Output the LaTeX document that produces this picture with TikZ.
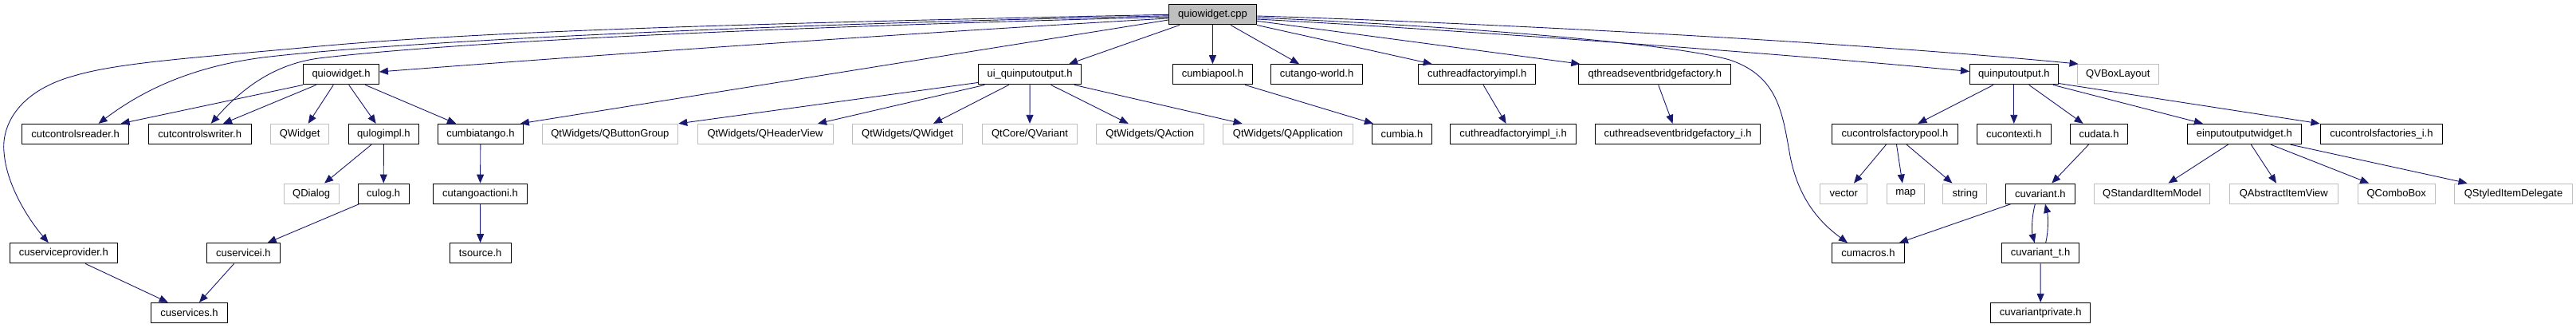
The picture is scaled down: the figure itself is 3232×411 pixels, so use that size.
\documentclass[tikz,border=0pt]{standalone}
\usepackage{fontspec}
\setmainfont{Liberation Sans}
\usetikzlibrary{arrows.meta}
\definecolor{edgeblue}{HTML}{191970}
\definecolor{extgray}{HTML}{BFBFBF}

\begin{document}
\begin{tikzpicture}[x=1pt, y=-1pt,
   every node/.style={font=\fontsize{13}{15}\selectfont, inner sep=0pt, minimum height=25.3pt},
   hdr/.style={draw=black, line width=1pt},
   sysh/.style={draw=extgray, line width=1pt},
   srcf/.style={draw=black, fill=extgray, line width=1pt},
   inc/.style={draw=edgeblue, line width=0.9pt, -{Triangle[length=11pt,width=9pt]}}]
\useasboundingbox (0,0) rectangle (3232,411);

\node[srcf, minimum width=110]   (root)     at (1521.4,18.3) {quiowidget.cpp};

\node[hdr,  minimum width=94.7]  (qw)       at (428,93.3)    {quiowidget.h};
\node[hdr,  minimum width=128.6] (uiq)      at (1292.1,93.3) {ui\_quinputoutput.h};
\node[hdr,  minimum width=99.3]  (cpool)    at (1521.4,93.3) {cumbiapool.h};
\node[hdr,  minimum width=115.3] (ctw)      at (1652,93.3)   {cutango-world.h};
\node[hdr,  minimum width=147.2] (ctfi)     at (1853.2,93.3) {cuthreadfactoryimpl.h};
\node[hdr,  minimum width=191.1] (qteb)     at (2076.3,93.3) {qthreadseventbridgefactory.h};
\node[hdr,  minimum width=110.7] (qio)      at (2526.8,93.3) {quinputoutput.h};
\node[sysh, minimum width=102.5] (qvbox)    at (2657.3,93.3) {QVBoxLayout};

\node[hdr,  minimum width=133.5] (ccr)      at (94.6,168)    {cutcontrolsreader.h};
\node[hdr,  minimum width=129.3] (ccw)      at (250.7,168)   {cutcontrolswriter.h};
\node[sysh, minimum width=73.6]  (qwidget)  at (376.1,168)   {QWidget};
\node[hdr,  minimum width=87.9]  (qlog)     at (481.4,168)   {qulogimpl.h};
\node[hdr,  minimum width=107.1] (ctango)   at (602.9,168)   {cumbiatango.h};
\node[sysh, minimum width=170.7] (qbgroup)  at (765.4,168)   {QtWidgets/QButtonGroup};
\node[sysh, minimum width=170]   (qhview)   at (960,168)     {QtWidgets/QHeaderView};
\node[sysh, minimum width=138.6] (qtwidget) at (1138.6,168)  {QtWidgets/QWidget};
\node[sysh, minimum width=118.9] (qvariant) at (1292,168)    {QtCore/QVariant};
\node[sysh, minimum width=135.4] (qaction)  at (1442.7,168)  {QtWidgets/QAction};
\node[sysh, minimum width=163.2] (qapp)     at (1615.9,168)  {QtWidgets/QApplication};
\node[hdr,  minimum width=75]    (cumbia)   at (1758.9,168)  {cumbia.h};
\node[hdr,  minimum width=157.9] (ctfii)    at (1898.6,168)  {cuthreadfactoryimpl\_i.h};
\node[hdr,  minimum width=206.8] (cteb)     at (2105.2,168)  {cuthreadseventbridgefactory\_i.h};
\node[hdr,  minimum width=157.9] (ccfp)     at (2377.5,168)  {cucontrolsfactorypool.h};
\node[hdr,  minimum width=93.6]  (cctx)     at (2526.8,168)  {cucontexti.h};
\node[hdr,  minimum width=72.1]  (cudata)   at (2633.6,168)  {cudata.h};
\node[hdr,  minimum width=142.9] (eiow)     at (2815.9,168)  {einputoutputwidget.h};
\node[hdr,  minimum width=153.8] (ccfi)     at (2987.9,168)  {cucontrolsfactories\_i.h};

\node[sysh, minimum width=69.3]  (qdialog)  at (390.7,242.7)  {QDialog};
\node[hdr,  minimum width=63.9]  (culog)    at (481.2,242.7)  {culog.h};
\node[hdr,  minimum width=117.9] (ctai)     at (602.5,242.7)  {cutangoactioni.h};
\node[sysh, minimum width=59.3]  (vector)   at (2313.2,242.7) {vector};
\node[sysh, minimum width=46.8]  (map)      at (2390.9,242.7) {map};
\node[sysh, minimum width=55]    (string)   at (2465.4,242.7) {string};
\node[hdr,  minimum width=86.8]  (cuvar)    at (2559.8,242.7) {cuvariant.h};
\node[sysh, minimum width=145.1] (qsim)     at (2700,242.7)   {QStandardItemModel};
\node[sysh, minimum width=136.3] (qaiv)     at (2865.3,242.7) {QAbstractItemView};
\node[sysh, minimum width=97.2]  (qcombo)   at (3006.7,242.7) {QComboBox};
\node[sysh, minimum width=147.2] (qsid)     at (3153.5,242.7) {QStyledItemDelegate};

\node[hdr,  minimum width=134.6] (csp)      at (79.8,317.3)   {cuserviceprovider.h};
\node[hdr,  minimum width=92.1]  (csi)      at (305.4,317.3)  {cuservicei.h};
\node[hdr,  minimum width=76.8]  (tsource)  at (602.7,317.3)  {tsource.h};
\node[hdr,  minimum width=90.7]  (cumacros) at (2343.9,317.3) {cumacros.h};
\node[hdr,  minimum width=97.1]  (cuvart)   at (2560,317.3)   {cuvariant\_t.h};

\node[hdr,  minimum width=96.4]  (csvc)     at (237.5,392)    {cuservices.h};
\node[hdr,  minimum width=125.4] (cuvarp)   at (2560.2,392)   {cuvariantprivate.h};

% quiowidget.cpp
\draw[inc] (root.west) .. controls (900,30) and (600,40) .. (400,58)
   .. controls (250,72) and (150,78) .. (93,95) .. controls (20,115) and (2,160) .. (5,190)
   .. controls (8,235) and (40,280) .. ([xshift=-19pt]csp.north);
\draw[inc] ([yshift=-1.5pt]root.west) .. controls (900,32) and (480,54) .. (330,72)
   .. controls (230,85) and (170,120) .. ([xshift=29pt]ccr.north);
\draw[inc] ([yshift=-3pt]root.west) .. controls (900,36) and (550,55) .. (400,73)
   .. controls (340,81) and (300,115) .. ([xshift=14pt]ccw.north);
\draw[inc] ([yshift=-4.7pt]root.west) .. controls (1200,38) and (800,65) .. ([yshift=3.3pt]qw.east);
\draw[inc] ([yshift=-6.7pt]root.west) -- ([xshift=50pt]ctango.north);
\draw[inc] ([xshift=-41.4pt]root.south) -- ([xshift=49pt]uiq.north);
\draw[inc] (root) -- (cpool);
\draw[inc] ([xshift=22.6pt]root.south) -- ([xshift=-22pt]ctw.north);
\draw[inc] (root.south east) -- ([xshift=-56.5pt]ctfi.north);
\draw[inc] ([yshift=-8pt]root.east) -- ([xshift=-94pt]qteb.north);
\draw[inc] ([yshift=-5.7pt]root.east) .. controls (1800,36) and (2200,64) .. ([yshift=3.8pt]qio.west);
\draw[inc] ([yshift=-1.7pt]root.east) .. controls (1900,30) and (2350,55) .. ([xshift=2pt]qvbox.north west);
\draw[inc] ([yshift=-3.7pt]root.east) .. controls (1850,34) and (2100,55) .. (2170,75)
   .. controls (2230,95) and (2236,140) .. (2245,190)
   .. controls (2255,250) and (2285,280) .. ([xshift=-26pt]cumacros.north);

% quiowidget.h
\draw[inc] (qw.south west) -- ([xshift=57pt]ccr.north);
\draw[inc] ([xshift=-31.3pt]qw.south) -- ([xshift=29.3pt]ccw.north);
\draw[inc] ([xshift=-9.7pt]qw.south) -- ([xshift=10.6pt]qwidget.north);
\draw[inc] ([xshift=9.7pt]qw.south) -- ([xshift=-9.7pt]qlog.north);
\draw[inc] ([xshift=30.3pt]qw.south) -- ([xshift=-30.8pt]ctango.north);

\draw[inc] ([xshift=-15.3pt]qlog.south) -- ([xshift=16.4pt]qdialog.north);
\draw[inc] (qlog) -- (culog);
\draw[inc] ([xshift=1.5pt]culog.south west) -- ([xshift=30.3pt]csi.north);
\draw[inc] ([xshift=-11.8pt]csi.south) -- ([xshift=12.5pt]csvc.north);
\draw[inc] ([xshift=27.3pt]csp.south) -- ([xshift=-26.8pt]csvc.north);
\draw[inc] (ctango) -- (ctai);
\draw[inc] (ctai) -- (tsource);

% ui_quinputoutput.h
\draw[inc] ([yshift=3pt]uiq.south west) -- (qbgroup.north east);
\draw[inc] ([xshift=-56.7pt]uiq.south) -- ([xshift=66pt]qhview.north);
\draw[inc] ([xshift=-26.4pt]uiq.south) -- ([xshift=32.4pt]qtwidget.north);
\draw[inc] (uiq) -- (qvariant);
\draw[inc] ([xshift=26.5pt]uiq.south) -- ([xshift=-27pt]qaction.north);
\draw[inc] ([xshift=55.8pt]uiq.south) -- ([xshift=-57.3pt]qapp.north);

\draw[inc] ([xshift=40.7pt]cpool.south) -- ([xshift=-36pt]cumbia.north);
\draw[inc] ([xshift=7.8pt]ctfi.south) -- ([xshift=-9pt]ctfii.north);
\draw[inc] ([xshift=4.4pt]qteb.south) -- ([xshift=-6.6pt]cteb.north);

% quinputoutput.h
\draw[inc] ([xshift=-25.8pt]qio.south) -- ([xshift=28.9pt]ccfp.north);
\draw[inc] (qio) -- (cctx);
\draw[inc] ([xshift=18.9pt]qio.south) -- ([xshift=-20pt]cudata.north);
\draw[inc] ([xshift=49.2pt]qio.south) -- ([xshift=-52pt]eiow.north);
\draw[inc] ([yshift=2pt]qio.south east) -- (ccfi.north west);

\draw[inc] ([xshift=-11pt]ccfp.south) -- ([xshift=12.8pt]vector.north);
\draw[inc] ([xshift=2pt]ccfp.south) -- ([xshift=-4pt]map.north);
\draw[inc] ([xshift=14.6pt]ccfp.south) -- ([xshift=-16pt]string.north);
\draw[inc] ([xshift=-13pt]cudata.south) -- ([xshift=14.5pt]cuvar.north);
\draw[inc] ([xshift=-37.3pt]cuvar.south) -- ([xshift=39pt]cumacros.north);
\draw[inc] ([xshift=-6.5pt]cuvar.south) .. controls (2549,272) and (2549,290) .. ([xshift=-7.3pt]cuvart.north);
\draw[inc] ([xshift=6.7pt]cuvart.north) .. controls (2570,290) and (2570,272) .. ([xshift=6.2pt]cuvar.south);
\draw[inc] (cuvart) -- (cuvarp);

\draw[inc] ([xshift=-20.4pt]eiow.south) -- ([xshift=20.5pt]qsim.north);
\draw[inc] ([xshift=8.4pt]eiow.south) -- ([xshift=-9.3pt]qaiv.north);
\draw[inc] ([xshift=33.1pt]eiow.south) -- ([xshift=-34.5pt]qcombo.north);
\draw[inc] ([xshift=57.7pt]eiow.south) -- ([xshift=-58pt]qsid.north);
\end{tikzpicture}
\end{document}
